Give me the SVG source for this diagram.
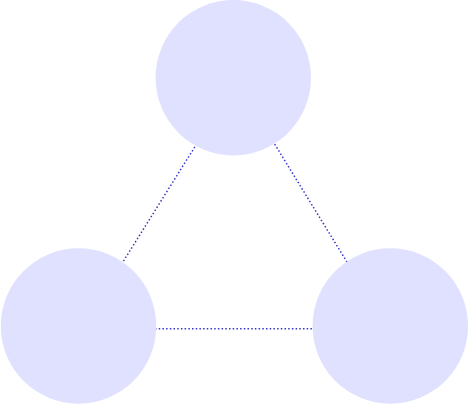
<svg xmlns="http://www.w3.org/2000/svg" width="469" height="404" viewBox="0 0 469 404">
<style>
.node{fill:#e0e0ff;stroke:none}
.edge{stroke:#3535cc;stroke-width:1.5;stroke-dasharray:1.5 2.2;fill:none}
</style>
<rect width="469" height="404" fill="#ffffff"/>
<g id="connectors">
<line class="edge" x1="236" y1="81" x2="81" y2="329"/>
<line class="edge" x1="236" y1="81" x2="388" y2="329"/>
<line class="edge" x1="81" y1="328.7" x2="388" y2="328.7"/>
</g>
<g id="node-top"><circle class="node" cx="233.3" cy="77.7" r="77.7"/></g>
<g id="node-left"><circle class="node" cx="78.5" cy="326" r="77.7"/></g>
<g id="node-right"><circle class="node" cx="390.3" cy="326" r="77.7"/></g>
</svg>
